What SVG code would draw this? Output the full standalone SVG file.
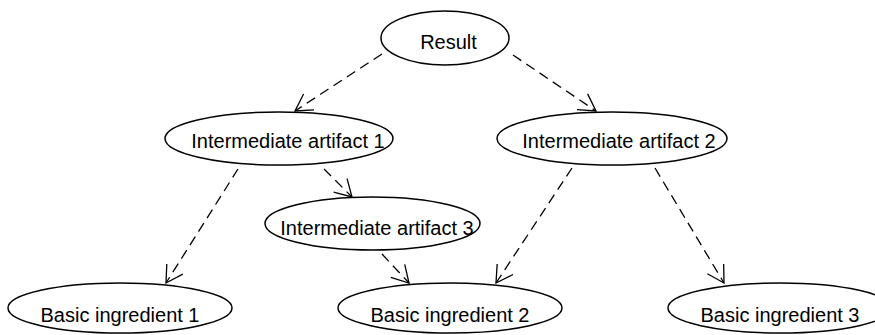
<svg xmlns="http://www.w3.org/2000/svg" width="875" height="335" viewBox="0 0 875 335">
<defs>
<style>
.node ellipse{fill:#fff;stroke:#000;stroke-width:1.5}
.node text{font-family:"Liberation Sans",Arial,sans-serif;font-size:20px;fill:#000;text-anchor:middle}
.edge{fill:none;stroke:#000;stroke-width:1.3;stroke-dasharray:10,6}
</style>
<marker id="arr" markerUnits="userSpaceOnUse" orient="auto" refX="0" refY="0" markerWidth="40" markerHeight="40" overflow="visible">
<path d="M-16.5,-9.5 L0,0 L-16.5,9.5" fill="none" stroke="#000" stroke-width="1.3" stroke-dasharray="none"/>
</marker>
</defs>
<rect width="875" height="335" fill="#fff"/>
<g id="connectors">
<line class="edge" x1="382" y1="54" x2="295" y2="111" marker-end="url(#arr)"/>
<line class="edge" x1="513" y1="55" x2="596" y2="111" marker-end="url(#arr)"/>
<line class="edge" x1="238" y1="169" x2="166" y2="283" marker-end="url(#arr)"/>
<line class="edge" x1="324" y1="169" x2="352" y2="197" marker-end="url(#arr)"/>
<line class="edge" x1="382" y1="254" x2="409" y2="283" marker-end="url(#arr)"/>
<line class="edge" x1="572" y1="168" x2="496" y2="283" marker-end="url(#arr)"/>
<line class="edge" x1="655" y1="168" x2="724" y2="283" marker-end="url(#arr)"/>
</g>
<g id="result" class="node"><ellipse cx="445" cy="38" rx="64" ry="27"/><text x="448.5" y="49">Result</text></g>
<g id="ia1" class="node"><ellipse cx="279" cy="138.5" rx="114" ry="26.5"/><text x="288" y="148">Intermediate artifact 1</text></g>
<g id="ia2" class="node"><ellipse cx="612" cy="138.5" rx="115" ry="26.5"/><text x="619" y="148">Intermediate artifact 2</text></g>
<g id="ia3" class="node"><ellipse cx="372.5" cy="223.5" rx="107.5" ry="26.5"/><text x="377" y="235">Intermediate artifact 3</text></g>
<g id="bi1" class="node"><ellipse cx="120" cy="308" rx="112" ry="25"/><text x="120" y="322">Basic ingredient 1</text></g>
<g id="bi2" class="node"><ellipse cx="450" cy="308" rx="112" ry="25"/><text x="450" y="322">Basic ingredient 2</text></g>
<g id="bi3" class="node"><ellipse cx="780" cy="308" rx="112" ry="25"/><text x="780" y="322">Basic ingredient 3</text></g>
</svg>
